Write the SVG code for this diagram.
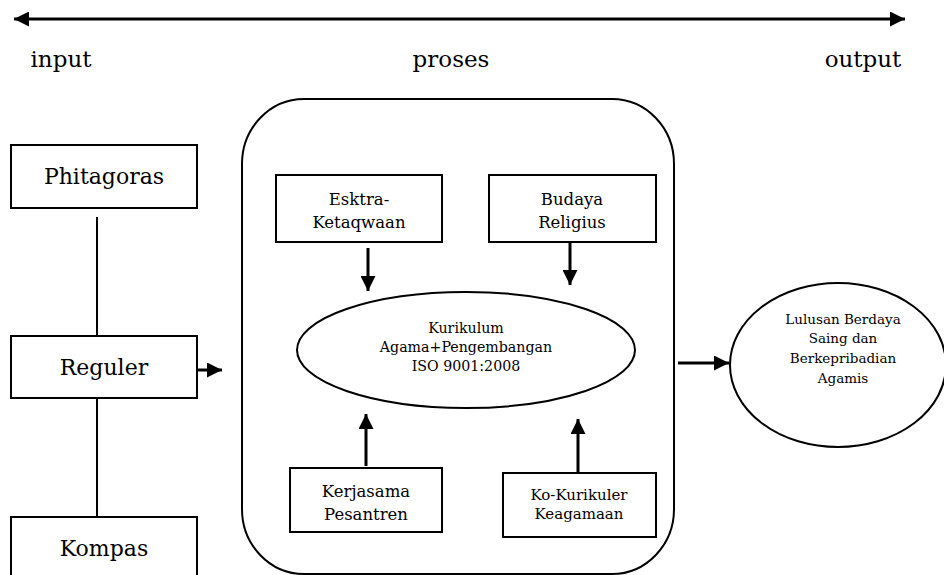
<svg xmlns="http://www.w3.org/2000/svg" width="944" height="575" viewBox="0 0 944 575">
<defs>
<marker id="ah" viewBox="0 0 10 10" refX="10" refY="5" markerWidth="5" markerHeight="5" orient="auto-start-reverse" markerUnits="strokeWidth"><path d="M0,0 L10,5 L0,10 z" fill="#000"/></marker>
<style>
.box{fill:#fff;stroke:#000;stroke-width:2}
.t{font-family:"DejaVu Serif","Liberation Serif",serif;fill:#000;text-anchor:middle}
.top{font-size:23px}
.big{font-size:22px}
.mid{font-size:16.5px}
.sm{font-size:15px}
.el{font-size:14.2px}
.out{font-size:13.5px}
.ln{stroke:#000;stroke-width:2;fill:none}
.ar{stroke:#000;stroke-width:3;fill:none}
</style>
</defs>
<rect width="944" height="575" fill="#fff"/>
<g id="labels">
<text class="t top" x="61" y="67">input</text>
<text class="t top" x="451" y="67">proses</text>
<text class="t top" x="863" y="67">output</text>
</g>
<g id="phitagoras"><rect class="box" x="11" y="145" width="186" height="63"/><text class="t big" x="104" y="184">Phitagoras</text></g>
<g id="reguler"><rect class="box" x="11" y="336" width="186" height="62"/><text class="t big" x="104" y="375">Reguler</text></g>
<g id="kompas"><rect class="box" x="11" y="517" width="186" height="70"/><text class="t big" x="104" y="556">Kompas</text></g>
<g id="proses"><rect class="box" x="242" y="99" width="432" height="475" rx="62" ry="65"/></g>
<g id="ekstra"><rect class="box" x="276" y="175" width="166" height="67"/><text class="t mid" x="359" y="205">Esktra-</text><text class="t mid" x="359" y="228">Ketaqwaan</text></g>
<g id="budaya"><rect class="box" x="489" y="175" width="167" height="67"/><text class="t mid" x="572" y="205">Budaya</text><text class="t mid" x="572" y="228">Religius</text></g>
<g id="kurikulum"><ellipse class="box" cx="466" cy="350" rx="169" ry="58"/><text class="t el" x="466" y="333">Kurikulum</text><text class="t el" x="466" y="352">Agama+Pengembangan</text><text class="t el" x="466" y="371">ISO 9001:2008</text></g>
<g id="kerjasama"><rect class="box" x="290" y="468" width="152" height="64"/><text class="t mid" x="366" y="497">Kerjasama</text><text class="t mid" x="366" y="520">Pesantren</text></g>
<g id="kokurikuler"><rect class="box" x="503" y="473" width="153" height="64"/><text class="t sm" x="579" y="500">Ko-Kurikuler</text><text class="t sm" x="579" y="519">Keagamaan</text></g>
<g id="lulusan"><ellipse class="box" cx="838" cy="365" rx="108" ry="82"/><text class="t out" x="843" y="324">Lulusan Berdaya</text><text class="t out" x="843" y="343">Saing dan</text><text class="t out" x="843" y="363">Berkepribadian</text><text class="t out" x="843" y="383">Agamis</text></g>
<g id="connectors">
<line class="ar" x1="14" y1="19" x2="905" y2="19" marker-start="url(#ah)" marker-end="url(#ah)"/>
<line class="ln" x1="97" y1="217" x2="97" y2="336"/>
<line class="ln" x1="97" y1="398" x2="97" y2="517"/>
<line class="ar" x1="197" y1="370" x2="222" y2="370" marker-end="url(#ah)"/>
<line class="ar" x1="368" y1="248" x2="368" y2="291" marker-end="url(#ah)"/>
<line class="ar" x1="570" y1="242" x2="570" y2="285" marker-end="url(#ah)"/>
<line class="ar" x1="366" y1="466" x2="366" y2="414" marker-end="url(#ah)"/>
<line class="ar" x1="578" y1="473" x2="578" y2="419" marker-end="url(#ah)"/>
<line class="ar" x1="678" y1="363" x2="729" y2="363" marker-end="url(#ah)"/>
</g>
</svg>
